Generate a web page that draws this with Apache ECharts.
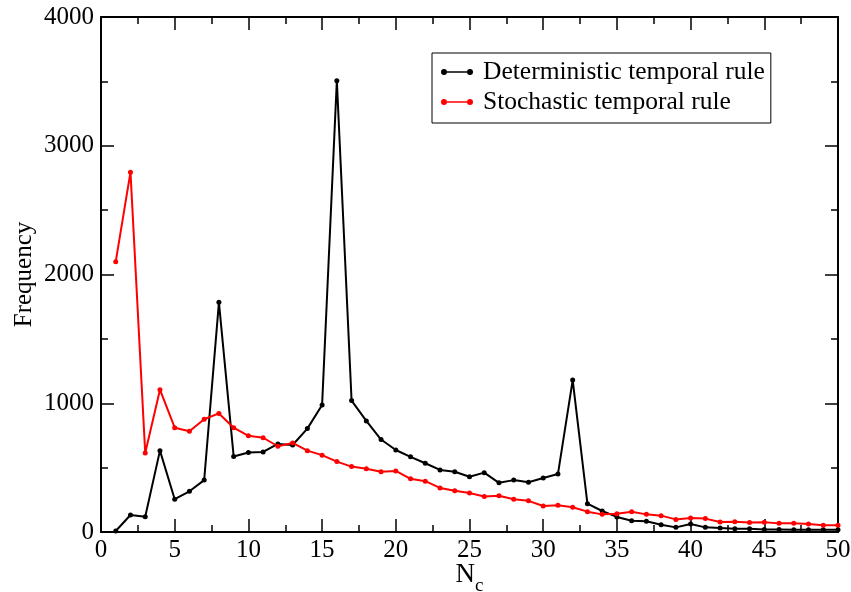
<!DOCTYPE html>
<html>
<head>
<meta charset="utf-8">
<script src="https://cdn.jsdelivr.net/npm/echarts@6/dist/echarts.min.js"></script>
<style>html,body{margin:0;padding:0;background:#fff}#c{width:851px;height:592px}</style>
</head>
<body>
<div id="c"></div>
<script>
var nc = [1,2,3,4,5,6,7,8,9,10,11,12,13,14,15,16,17,18,19,20,21,22,23,24,25,26,27,28,29,30,31,32,33,34,35,36,37,38,39,40,41,42,43,44,45,46,47,48,49,50];
var deterministic = [8,132,118,632,255,316,403,1784,587,618,622,684,676,803,987,3505,1021,863,718,637,584,534,482,468,429,461,382,403,387,420,450,1180,220,163,117,88,83,56,36,62,36,32,26,26,20,20,17,17,17,17];
var stochastic = [2100,2795,613,1105,810,782,876,921,810,747,732,666,692,632,597,547,508,492,468,474,413,395,342,321,303,276,282,255,242,202,207,192,158,137,142,158,137,127,98,108,104,78,80,73,76,67,67,62,52,52];
var xTicks = [0,5,10,15,20,25,30,35,40,45,50];
var yTicks = [0,1000,2000,3000,4000];
var seriesNames = ['Deterministic temporal rule','Stochastic temporal rule'];
var seriesColors = ['#000000','#ff0000'];

function pairs(xs, ys){ return xs.map(function(x,i){ return [x, ys[i]]; }); }

var font = 'Liberation Serif';
var axisCommon = function(pos, showLabel){
  return {
    type:'value', position: pos,
    axisLine:{show:true, onZero:false, lineStyle:{color:'#000', width:2}},
    axisTick:{show:true, inside:true, length:13, lineStyle:{color:'#000', width:1.5}},
    minorTick:{show:true, splitNumber:2, length:7, lineStyle:{color:'#000', width:1.5}},
    splitLine:{show:false},
    axisLabel:{show:showLabel, color:'#000', fontFamily:font, fontSize:25, formatter:function(v){return String(v);}}
  };
};
var xa1 = axisCommon('bottom', true);
xa1.min = xTicks[0]; xa1.max = xTicks[xTicks.length-1]; xa1.interval = xTicks[1]-xTicks[0];
xa1.axisLabel.margin = 6;
xa1.name = '{n|N}{s|c}'; xa1.nameLocation = 'middle'; xa1.nameGap = 29; xa1.nameMoveOverlap = false;
xa1.nameTextStyle = {rich:{n:{fontFamily:font, fontSize:27, color:'#000'}, s:{fontFamily:font, fontSize:19, color:'#000', verticalAlign:'bottom', padding:[0,0,-8,0]}}};
var xa2 = axisCommon('top', false);
xa2.min = xa1.min; xa2.max = xa1.max; xa2.interval = xa1.interval;
var ya1 = axisCommon('left', true);
ya1.min = yTicks[0]; ya1.max = yTicks[yTicks.length-1]; ya1.interval = yTicks[1]-yTicks[0];
ya1.axisLabel.margin = 7;
ya1.name = 'Frequency'; ya1.nameLocation = 'middle'; ya1.nameGap = 64; ya1.nameRotate = 90; ya1.nameMoveOverlap = false;
ya1.nameTextStyle = {fontFamily:font, fontSize:25, color:'#000'};
var ya2 = axisCommon('right', false);
ya2.min = ya1.min; ya2.max = ya1.max; ya2.interval = ya1.interval;

var legendIcon = 'path://M0,3a3,3 0 1,1 6,0a3,3 0 1,1 -6,0z M6,2.2h20v1.6h-20z M26,3a3,3 0 1,1 6,0a3,3 0 1,1 -6,0z M36.99,3h0.01v0.01h-0.01z';

var chart = echarts.init(document.getElementById('c'), null, {renderer:'canvas'});
chart.setOption({
  animation:false,
  backgroundColor:'#fff',
  grid:{left:101, right:13, top:17, bottom:60, containLabel:false, outerBoundsMode:'none'},
  xAxis:[xa1, xa2],
  yAxis:[ya1, ya2],
  legend:{
    data:seriesNames.map(function(n,i){ return {name:n, itemStyle:{color:seriesColors[i], borderWidth:0, opacity:1}}; }),
    orient:'vertical', left:432, top:53,
    backgroundColor:'#fff', borderColor:'#000', borderWidth:1,
    padding:[6,6,8,9], itemGap:4, itemWidth:37, itemHeight:6,
    icon: legendIcon,
    textStyle:{fontFamily:font, fontSize:25.5, color:'#000'}
  },
  series:[
    {name:seriesNames[0], type:'line', data:pairs(nc, deterministic), color:seriesColors[0],
     lineStyle:{width:2, color:seriesColors[0]}, symbol:'circle', symbolSize:5, itemStyle:{color:seriesColors[0]}},
    {name:seriesNames[1], type:'line', data:pairs(nc, stochastic), color:seriesColors[1],
     lineStyle:{width:2, color:seriesColors[1]}, symbol:'circle', symbolSize:5, itemStyle:{color:seriesColors[1]}}
  ]
});
</script>
</body>
</html>
